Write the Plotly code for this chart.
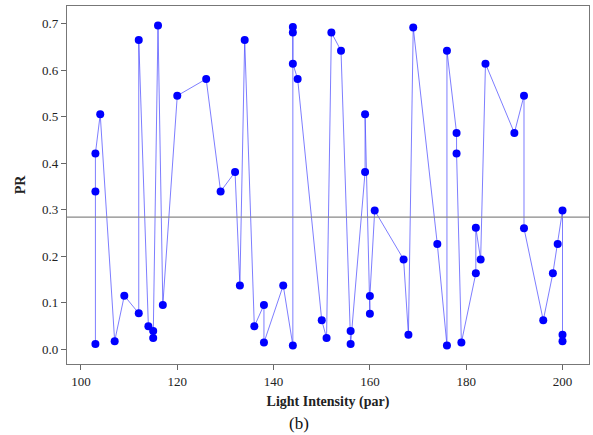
import plotly.graph_objects as go

light = [103, 103, 103, 104, 107, 109, 112, 112, 114, 115, 115, 116, 117, 120,
         126, 129, 132, 133, 134, 136, 138, 138, 142, 144, 144, 144, 144, 145,
         150, 151, 152, 154, 156, 156, 159, 159, 160, 160, 161, 167, 168, 169,
         174, 176, 176, 178, 178, 179, 182, 182, 183, 184, 190, 192, 192, 196,
         198, 199, 200, 200, 200]
pr = [0.011, 0.339, 0.421, 0.505, 0.017, 0.115, 0.077, 0.665, 0.049, 0.039, 0.024, 0.696, 0.095, 0.545,
      0.581, 0.339, 0.381, 0.137, 0.665, 0.049, 0.095, 0.014, 0.137, 0.008, 0.693, 0.681, 0.614, 0.581,
      0.062, 0.024, 0.681, 0.642, 0.039, 0.011, 0.381, 0.505, 0.076, 0.114, 0.298, 0.193, 0.031, 0.692,
      0.226, 0.008, 0.642, 0.465, 0.421, 0.014, 0.163, 0.261, 0.193, 0.614, 0.465, 0.545, 0.260, 0.062,
      0.163, 0.226, 0.298, 0.031, 0.017]
ref_level = 0.284
x_ticks = [100, 120, 140, 160, 180, 200]
y_ticks = [0.0, 0.1, 0.2, 0.3, 0.4, 0.5, 0.6, 0.7]

font = "Liberation Serif, Times New Roman, serif"

fig = go.Figure()
fig.add_trace(go.Scatter(
    x=light, y=pr, mode="lines+markers",
    line=dict(color="rgba(70,70,255,0.7)", width=1),
    marker=dict(color="#0000ff", size=8),
    showlegend=False,
))
fig.add_shape(type="line", xref="paper", x0=0, x1=1, yref="y", y0=ref_level, y1=ref_level,
              line=dict(color="#888888", width=1.2))

fig.update_layout(
    width=593, height=435,
    margin=dict(l=67, r=4, t=6, b=71, autoexpand=False),
    plot_bgcolor="white", paper_bgcolor="white",
    font=dict(family=font, size=13, color="#222"),
    xaxis=dict(range=[97.1, 205.5], tickvals=x_ticks, ticks="outside", ticklen=5,
               tickcolor="#666", showgrid=False, zeroline=False, showline=True,
               linecolor="#777", linewidth=1.2, mirror=True, automargin=False,
               title=dict(text="<b>Light Intensity (par)</b>", font=dict(size=14), standoff=8),
               tickfont=dict(size=13)),
    yaxis=dict(range=[-0.032, 0.738], tickvals=y_ticks, tickformat=".1f", ticks="outside",
               ticklen=5, tickcolor="#666", showgrid=False, zeroline=False, showline=True,
               linecolor="#777", linewidth=1.2, mirror=True, automargin=False,
               title=dict(text="<b>PR</b>", font=dict(size=14), standoff=13),
               tickfont=dict(size=13)),
    annotations=[dict(text="(b)", xref="paper", yref="paper", x=0.445, y=-0.133,
                      showarrow=False, xanchor="center", yanchor="top",
                      font=dict(size=17, family=font, color="#111"))],
)
fig.write_html("out.html", config={"displayModeBar": False},
               post_script="document.body.style.margin='0px';")
